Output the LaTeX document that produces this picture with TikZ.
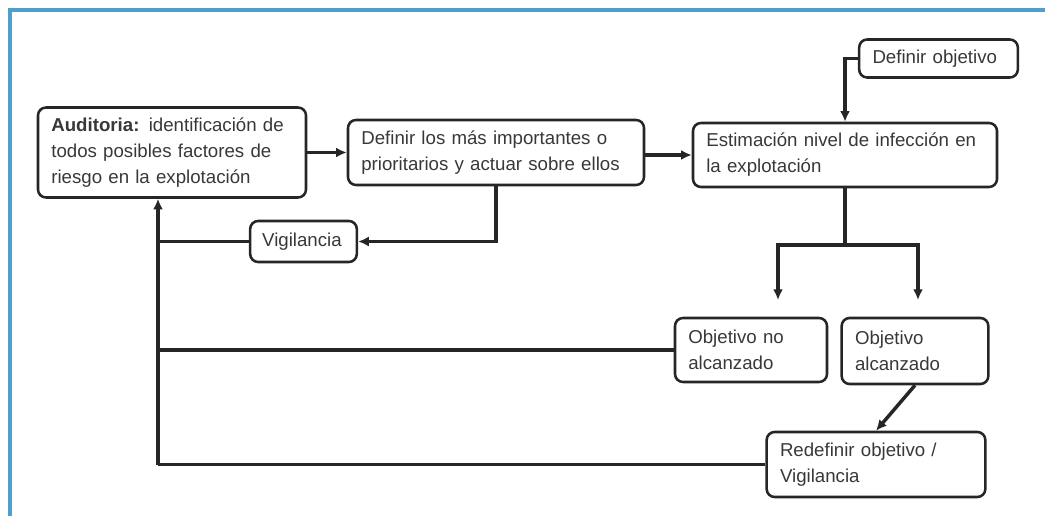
\documentclass[tikz,border=0pt]{standalone}
\usepackage{fontspec}
\setmainfont{Liberation Sans}
\usetikzlibrary{arrows.meta}
\definecolor{framblue}{RGB}{78,158,208}
\tikzset{
  box/.style={draw=black!85, line width=1.9pt, rounded corners=6pt, inner xsep=10pt, inner ysep=0pt,
    align=left, text=black!78, font=\fontsize{14}{19.5}\selectfont},
  arr/.style={line width=2.6pt, draw=black!85, -{Latex[length=8pt,width=7.5pt]}},
  lin/.style={line width=2.6pt, draw=black!85}
}
\begin{document}
\begin{tikzpicture}[x=0.75pt,y=-0.75pt]
\useasboundingbox (0,0) rectangle (1045,516);
% frame
\draw [framblue, line width=2.8pt] (10,516) -- (10,10) -- (1045,10);
% boxes
\node [box, text width=181pt, minimum height=67.5pt] (audit) at (172,152.5) {\textbf{Auditoria:} identificación de\\todos posibles factores de\\riesgo en la explotación};
\node [box, text width=202pt, minimum height=48.75pt] (defin) at (496,152.5) {Definir los más importantes o\\prioritarios y actuar sobre ellos};
\node [box, text width=208pt, minimum height=48pt] (estim) at (845,155) {Estimación nivel de infección en\\la explotación};
\node [box, text width=99pt, minimum height=28.5pt] (defobj) at (938.5,58.5) {Definir objetivo};
\node [box, text width=62pt, minimum height=30.75pt, inner xsep=9pt] (vigil) at (303.5,241.5) {Vigilancia};
\node [box, text width=94pt, minimum height=48pt] (noalc) at (751,350) {Objetivo no\\alcanzado};
\node [box, text width=90pt, minimum height=49.5pt] (alc) at (915,351) {Objetivo\\alcanzado};
\node [box, text width=144pt, minimum height=48.75pt] (redef) at (876,464.5) {Redefinir objetivo /\\Vigilancia};
% helper points
\coordinate (split) at (845,245);
\coordinate (tonoalc) at (778,300);
\coordinate (toalc) at (918,300);
\coordinate (back) at (158,464.5);
% connectors
\draw [arr] (audit.east) -- (audit.east -| defin.west);
\draw [arr] (defin.east |- estim.west) -- (estim.west);
\draw [arr] (defobj.west) -| (estim.north);
\draw [lin] (estim.south) -- (split);
\draw [arr] (split) -| (tonoalc);
\draw [arr] (split) -| (toalc);
\draw [arr] (defin.south) |- (vigil.east);
\draw [lin] (vigil.west) -- (vigil.west -| back);
\draw [lin] (noalc.west) -- (noalc.west -| back);
\draw [lin] (redef.west) -- (back);
\draw [arr] (back) -- (back |- audit.south);
\draw [arr] (alc.south) -- (redef.north);
\end{tikzpicture}
\end{document}
